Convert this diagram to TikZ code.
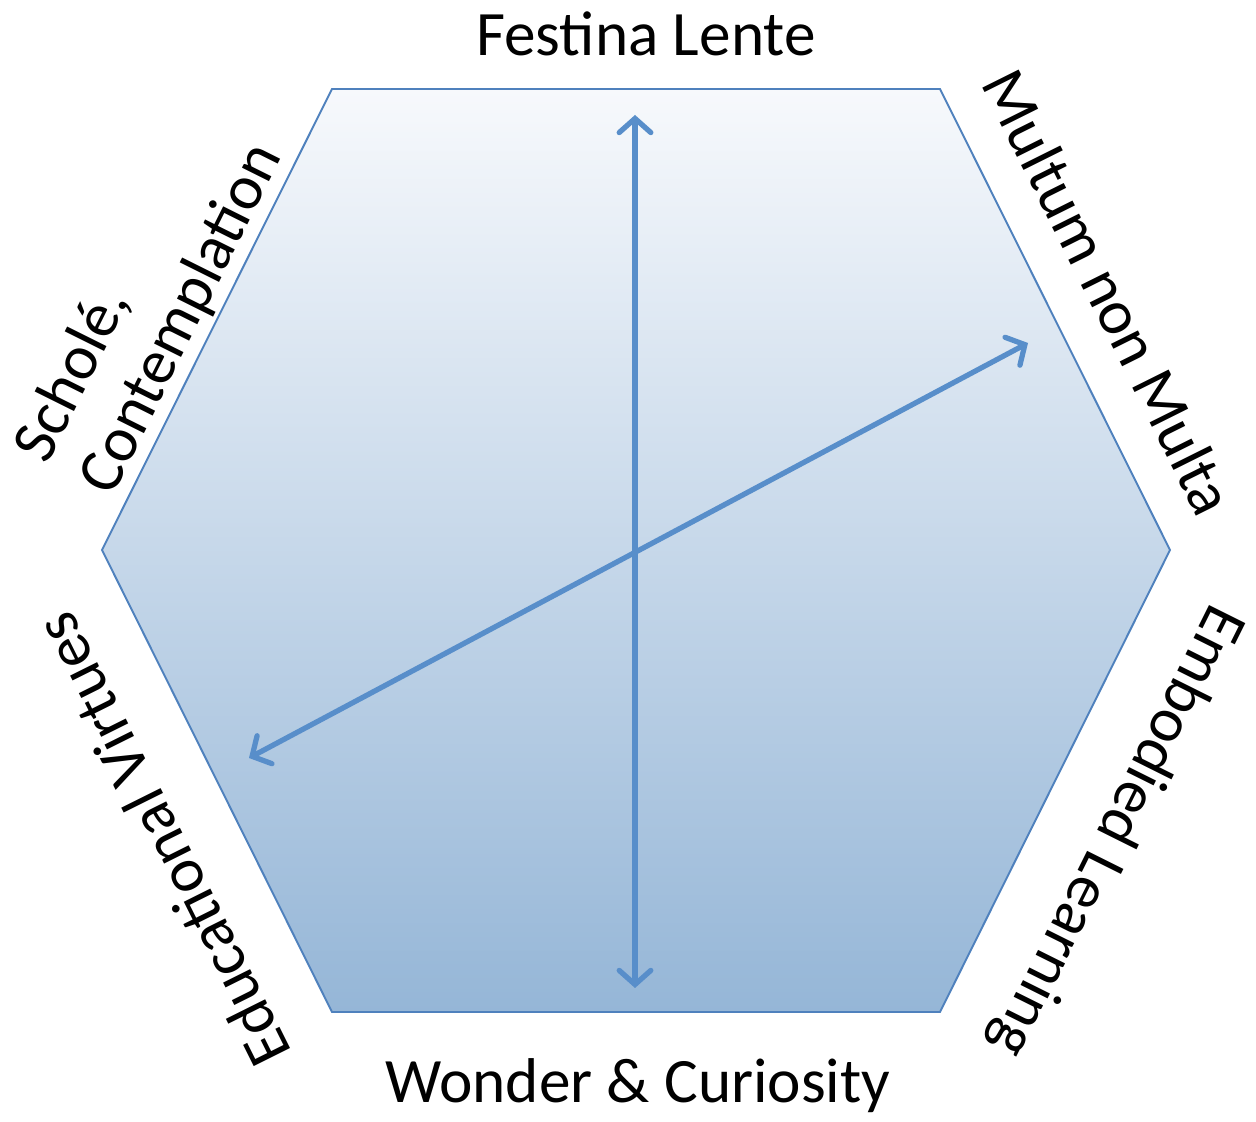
\documentclass[tikz,border=0pt]{standalone}
\usepackage{fontspec}
\setmainfont{Carlito}
\usetikzlibrary{arrows.meta}
\definecolor{hexline}{RGB}{79,129,189}
\definecolor{hextop}{RGB}{247,249,252}
\definecolor{hexbottom}{RGB}{149,182,215}
\definecolor{axiscol}{RGB}{88,142,202}
\begin{document}
\begin{tikzpicture}[x=0.02cm,y=0.02cm,
    label/.style={font=\fontsize{36}{41}\selectfont, inner sep=0pt},
    axis/.style={draw=axiscol, line width=3pt, line cap=round,
      {Straight Barb[length=8pt,width=18pt,line cap=round]}-{Straight Barb[length=8pt,width=18pt,line cap=round]}}]
\useasboundingbox (0,0) rectangle (1256,1121);

% hexagon
\shade[top color=hextop, bottom color=hexbottom]
  (332,1032) -- (940,1032) -- (1170,571) -- (940,109) -- (332,109) -- (102,571) -- cycle;
\draw[hexline, line width=1.1pt, line join=miter]
  (332,1032) -- (940,1032) -- (1170,571) -- (940,109) -- (332,109) -- (102,571) -- cycle;

% axis ends
\coordinate (top) at (635,1006);
\coordinate (bottom) at (635,133);
\coordinate (right) at (1028,778);
\coordinate (left) at (249,363);

\draw[axis] (bottom) -- (top);
\draw[axis] (left) -- (right);

% labels
\node[label] (festina) at (646,1087) {Festina Lente};
\node[label, rotate=-63.5] (multum) at (1109,829) {Multum non Multa};
\node[label, rotate=-116.5] (embodied) at (1116,290) {Embodied Learning};
\node[label] (wonder) at (638,35) {Wonder \& Curiosity};
\node[label, rotate=116.5] (virtues) at (162,281) {Educational Virtues};
\node[label, rotate=63.5, align=left] (schole) at (150,818) {Scholé,\\Contemplation};
\end{tikzpicture}
\end{document}
